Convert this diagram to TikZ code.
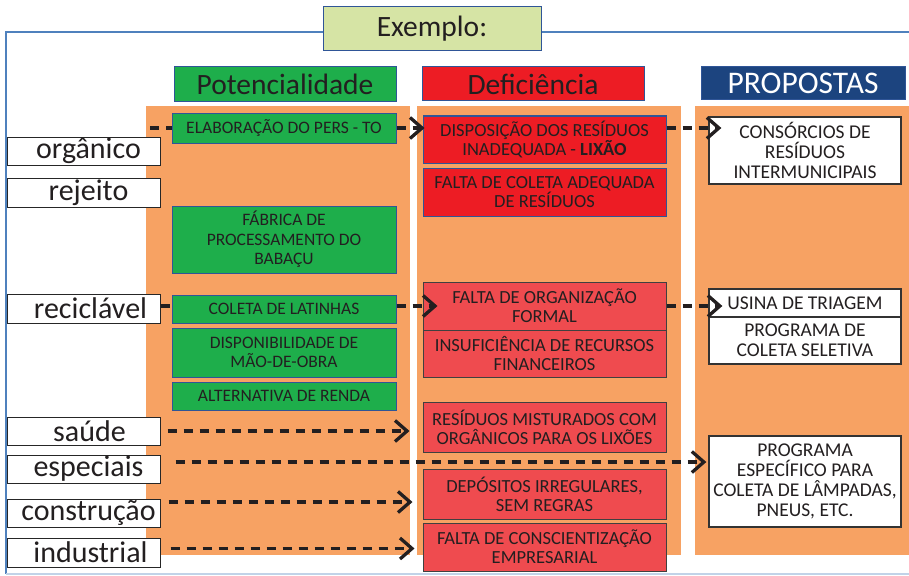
\documentclass[tikz,border=0pt]{standalone}
\usepackage{fontspec}
\setmainfont{Carlito}
\usetikzlibrary{arrows.meta}
\definecolor{colorange}{HTML}{F7A263}
\definecolor{potgreen}{HTML}{1EAE4B}
\definecolor{defred}{HTML}{ED1C24}
\definecolor{deflight}{HTML}{EF4B4F}
\definecolor{propblue}{HTML}{1C447F}
\definecolor{titlegreen}{HTML}{D6E4A5}
\definecolor{edgeblue}{HTML}{2F5597}
\definecolor{frameblue}{HTML}{4F81BD}
\definecolor{inkdark}{HTML}{231F20}

\begin{document}
\begin{tikzpicture}[x=1pt,y=-1pt,
		every node/.style={inner sep=0pt, align=center, text=inkdark},
		wlabel/.style={draw=black!85, fill=white, line width=1pt, minimum width=153pt, font=\fontsize{30}{32}\selectfont},
		headbox/.style={draw=edgeblue, line width=1pt, font=\fontsize{29.5}{31}\selectfont},
		potbox/.style={draw=edgeblue, fill=potgreen, line width=1pt, minimum width=224pt, font=\fontsize{17.5}{19.5}\selectfont},
		defbox/.style={draw=edgeblue, fill=defred, line width=1pt, minimum width=243pt, font=\fontsize{18.5}{19}\selectfont},
		defboxb/.style={defbox, draw=black!75, fill=deflight},
		propbox/.style={draw=black!80, fill=white, line width=1.3pt, minimum width=192pt, font=\fontsize{19.5}{20}\selectfont},
		flowline/.style={draw=inkdark, line width=3.3pt, dash pattern=on 9pt off 7pt},
		flowarrow/.style={flowline, -{Straight Barb[length=12pt,width=21pt]}}]
	\useasboundingbox (0,0) rectangle (909,575);

	\draw[frameblue, line width=1.2pt] (909,32) -- (6,32) -- (6,574);
	\draw[frameblue!35, line width=1.2pt] (6,574) -- (909,574);

	\fill[colorange] (146,106) rectangle (410,555);
	\fill[colorange] (417,106) rectangle (681,555);
	\fill[colorange] (695,106) rectangle (909,555);

	\node[headbox, fill=titlegreen, minimum width=218pt, minimum height=44pt] (title) at (432,29) {Exemplo:};
	\node[headbox, fill=potgreen, minimum width=222pt, minimum height=35pt] (pothead) at (285,84.5) {Potencialidade};
	\node[headbox, fill=defred, minimum width=222pt, minimum height=34pt] (defhead) at (533,84) {Deficiência};
	\node[headbox, fill=propblue, text=white, minimum width=204pt, minimum height=33pt, font=\fontsize{31.5}{33}\selectfont] (prophead) at (803,83.5) {PROPOSTAS};

	\node[wlabel, minimum height=28pt] (organico) at (83.5,151) {\hspace*{10pt}orgânico};
	\node[wlabel, minimum height=29pt] (rejeito) at (83.5,192.5) {\hspace*{10pt}rejeito};
	\node[wlabel, minimum height=29pt] (recicl) at (83.5,308.5) {\hspace*{14pt}reciclável};
	\node[wlabel, minimum height=28pt] (saude) at (83.5,431) {\hspace*{12pt}saúde};
	\node[wlabel, minimum height=28pt] (especiais) at (83.5,469) {\hspace*{10pt}especiais};
	\node[wlabel, minimum height=28pt] (constr) at (83.5,513) {\hspace*{10pt}construção};
	\node[wlabel, minimum height=29pt] (indus) at (83.5,552.5) {\hspace*{14pt}industrial};

	\node[potbox, minimum height=29pt] (elab) at (284,128.5) {ELABORAÇÃO DO PERS - TO};
	\node[potbox, minimum height=67pt] (fabrica) at (284,239.5) {FÁBRICA DE\\PROCESSAMENTO DO\\BABAÇU};
	\node[potbox, minimum height=28pt] (latinhas) at (284,309) {COLETA DE LATINHAS};
	\node[potbox, minimum height=49pt] (maoobra) at (284,352.5) {DISPONIBILIDADE DE\\MÃO-DE-OBRA};
	\node[potbox, minimum height=28pt] (renda) at (284,396) {ALTERNATIVA DE RENDA};

	\node[defbox, minimum height=47pt] (disp) at (544.5,139.5) {DISPOSIÇÃO DOS RESÍDUOS\\INADEQUADA - \textbf{LIXÃO}};
	\node[defbox, minimum height=48pt] (coleta) at (544.5,192) {FALTA DE COLETA ADEQUADA\\DE RESÍDUOS};
	\node[defboxb, minimum height=48pt] (organiz) at (544.5,306) {FALTA DE ORGANIZAÇÃO\\FORMAL};
	\node[defboxb, minimum height=47pt] (recursos) at (544.5,353.5) {INSUFICIÊNCIA DE RECURSOS\\FINANCEIROS};
	\node[defboxb, minimum height=50pt] (misturados) at (544.5,427) {RESÍDUOS MISTURADOS COM\\ORGÂNICOS PARA OS LIXÕES};
	\node[defboxb, minimum height=50pt] (depositos) at (544.5,494) {DEPÓSITOS IRREGULARES,\\SEM REGRAS};
	\node[defboxb, minimum height=48pt] (conscient) at (544.5,547) {FALTA DE CONSCIENTIZAÇÃO\\EMPRESARIAL};

	\node[propbox, minimum height=67pt] (consorcios) at (805,150.5) {CONSÓRCIOS DE\\RESÍDUOS\\INTERMUNICIPAIS};
	\node[propbox, minimum height=28pt] (usina) at (805,303) {USINA DE TRIAGEM};
	\node[propbox, minimum height=47pt] (coletasel) at (805,340.5) {PROGRAMA DE\\COLETA SELETIVA};
	\node[propbox, minimum height=91pt] (especifico) at (805,481.5) {PROGRAMA\\ESPECÍFICO PARA\\COLETA DE LÂMPADAS,\\PNEUS, ETC.};

	\coordinate (orgstart) at (150,128);
	\draw[flowline] (orgstart) -- (orgstart -| elab.west);
	\draw[flowarrow, shorten >=-2pt] (elab.east |- orgstart) -- (orgstart -| disp.west);
	\draw[flowarrow, shorten >=-13pt] (disp.east |- orgstart) -- (orgstart -| consorcios.west);

	\draw[flowline] (recicl.east |- organiz) -- (latinhas.west |- organiz);
	\draw[flowarrow, shorten >=-15pt] (latinhas.east |- organiz) -- (organiz.west);
	\draw[flowarrow, shorten >=-14pt] (organiz.east) -- (organiz.east -| usina.west);

	\draw[flowarrow, shorten <=7pt, shorten >=13pt] (saude.east) -- (saude.east -| misturados.west);
	\draw[flowarrow, shorten <=15pt, shorten >=2pt] ([yshift=7pt]especiais.east) -- ([yshift=7pt]especiais.east -| especifico.west);
	\draw[flowarrow, shorten <=8pt, shorten >=10pt] ([yshift=11pt]constr.east) -- ([yshift=11pt]constr.east -| depositos.west);
	\draw[flowarrow, shorten <=10pt, shorten >=8pt] ([yshift=4pt]indus.east) -- ([yshift=4pt]indus.east -| conscient.west);
\end{tikzpicture}
\end{document}
